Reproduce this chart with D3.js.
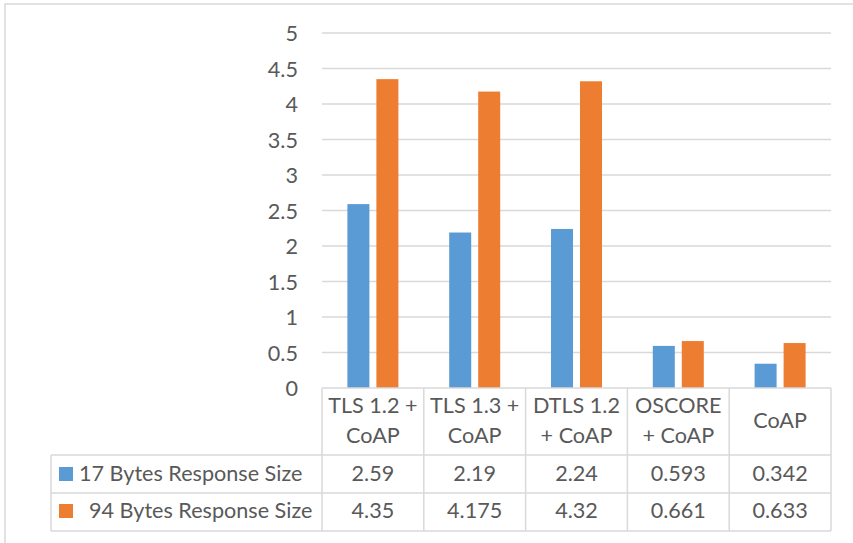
<!DOCTYPE html>
<html>
<head>
<meta charset="utf-8">
<script src="https://cdn.jsdelivr.net/npm/d3@7/dist/d3.min.js"></script>
<style>
  html, body { margin: 0; padding: 0; background: #ffffff; }
  svg { display: block; }
  text { font-family: Lato, "Open Sans", sans-serif; fill: #595959; }
</style>
</head>
<body>
<svg id="chart" width="853" height="543"></svg>
<script>
// Response time per protocol stack, two response sizes
const categories = [["TLS 1.2 +", "CoAP"], ["TLS 1.3 +", "CoAP"], ["DTLS 1.2", "+ CoAP"], ["OSCORE", "+ CoAP"], ["CoAP"]];
const seriesNames = ["17 Bytes Response Size", "94 Bytes Response Size"];
const small = [2.59, 2.19, 2.24, 0.593, 0.342];
const large = [4.35, 4.175, 4.32, 0.661, 0.633];
const valueLabels = [["2.59", "2.19", "2.24", "0.593", "0.342"], ["4.35", "4.175", "4.32", "0.661", "0.633"]];
const yTicks = [0, 0.5, 1, 1.5, 2, 2.5, 3, 3.5, 4, 4.5, 5];
const colors = ["#5b9bd5", "#ed7d31"];

const svg = d3.select("#chart");
const fontSize = 21.6;
const grid = "#d9d9d9";

const plot = { left: 322, right: 831, top: 33, bottom: 388 };
const table = { left: 51, headBottom: 455, row1: 493, row2: 531 };

// outer frame
svg.append("rect").attr("x", 5).attr("y", 4).attr("width", 860).attr("height", 560)
  .attr("fill", "none").attr("stroke", grid).attr("stroke-width", 1.5);

const idx = categories.map((d, i) => i);
const x = d3.scaleBand().domain(idx).range([plot.left, plot.right]).padding(0);
const y = d3.scaleLinear().domain([0, 5]).range([plot.bottom, plot.top]);
const x1 = d3.scaleBand().domain([0, 1]).range([-25.5, 25.5]).paddingInner(7 / 29).paddingOuter(0);

// horizontal gridlines
svg.append("g").selectAll("line").data(yTicks.filter(t => t > 0)).join("line")
  .attr("x1", plot.left).attr("x2", plot.right)
  .attr("y1", d => y(d)).attr("y2", d => y(d))
  .attr("stroke", grid).attr("stroke-width", 1.5);

// y axis labels
const yAxis = d3.axisLeft(y).tickValues(yTicks).tickSize(0).tickPadding(0).tickFormat(d3.format("~g"));
const ya = svg.append("g").attr("transform", `translate(298,0)`).call(yAxis);
ya.select(".domain").remove();
ya.selectAll("text").attr("font-size", fontSize).attr("font-family", "Lato, sans-serif")
  .attr("fill", "#595959").attr("dy", "0.36em");

// bars
const seriesData = [small, large];
seriesData.forEach((vals, s) => {
  svg.append("g").selectAll("rect").data(vals).join("rect")
    .attr("x", (d, i) => x(i) + x.bandwidth() / 2 + x1(s))
    .attr("width", x1.bandwidth())
    .attr("y", d => y(d))
    .attr("height", d => y(0) - y(d))
    .attr("fill", colors[s]);
});

// data table lines
const tl = svg.append("g").attr("stroke", grid).attr("stroke-width", 1.5);
tl.append("line").attr("x1", plot.left).attr("x2", plot.right).attr("y1", plot.bottom).attr("y2", plot.bottom);
[table.headBottom, table.row1, table.row2].forEach(yy => {
  tl.append("line").attr("x1", table.left).attr("x2", plot.right).attr("y1", yy).attr("y2", yy);
});
x.domain().concat([categories.length]).forEach(i => {
  const xx = i < categories.length ? x(i) : plot.right;
  tl.append("line").attr("x1", xx).attr("x2", xx).attr("y1", plot.bottom).attr("y2", table.row2);
});
tl.append("line").attr("x1", table.left).attr("x2", table.left).attr("y1", table.headBottom).attr("y2", table.row2);

// category headers
categories.forEach((lines, i) => {
  const cx = x(i) + x.bandwidth() / 2;
  const t = svg.append("text").attr("text-anchor", "middle").attr("font-size", fontSize);
  if (lines.length === 1) {
    t.append("tspan").attr("x", cx).attr("y", 428).text(lines[0]);
  } else {
    t.append("tspan").attr("x", cx).attr("y", 413).text(lines[0]);
    t.append("tspan").attr("x", cx).attr("y", 443).text(lines[1]);
  }
});

// table rows: legend key, series name and values
const rowBase = [481, 518];
const nameX = [79, 89];
seriesNames.forEach((name, s) => {
  svg.append("rect").attr("x", 59).attr("y", rowBase[s] - 14).attr("width", 14).attr("height", 14)
    .attr("fill", colors[s]);
  svg.append("text").attr("x", nameX[s]).attr("y", rowBase[s]).attr("font-size", fontSize).text(name);
  svg.append("g").selectAll("text").data(valueLabels[s]).join("text")
    .attr("x", (d, i) => x(i) + x.bandwidth() / 2)
    .attr("y", rowBase[s])
    .attr("text-anchor", "middle")
    .attr("font-size", fontSize)
    .text(d => d);
});
</script>
</body>
</html>
